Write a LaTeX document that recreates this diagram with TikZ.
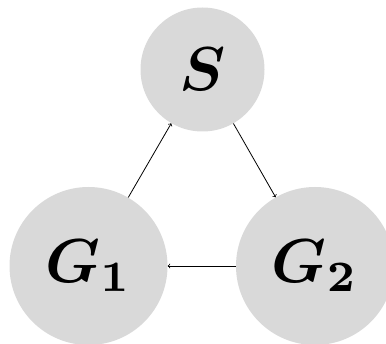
\documentclass[tikz,border=0pt]{standalone}
\usepackage{bm}
\definecolor{nodegray}{HTML}{D9D9D9}
\newcommand{\biglabel}[1]{\scalebox{6.2}{$\bm{#1}$}}
\begin{document}
\begin{tikzpicture}[x=1pt,y=-1pt,
  state/.style={circle,fill=nodegray,inner sep=0pt},
  small/.style={state,minimum size=124pt},
  big/.style={state,minimum size=158pt},
  conn/.style={->,>=to,line width=0.8pt}]
\useasboundingbox (0,0) rectangle (386,344);
\node[small] (S) at (202.5,69.5) {\biglabel{S}};
\node[big] (G1) at (88.5,266) {\biglabel{G_1}};
\node[big] (G2) at (315,266) {\biglabel{G_2}};
\draw[conn] (G1) -- (S);
\draw[conn] (S) -- (G2);
\draw[conn] (G2) -- (G1);
\end{tikzpicture}
\end{document}
